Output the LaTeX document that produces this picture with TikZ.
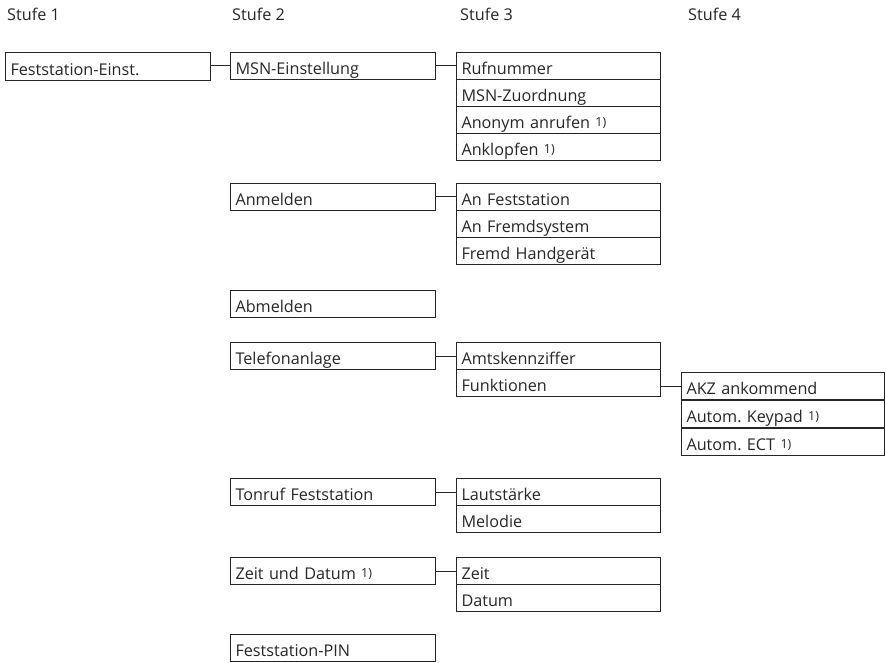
\documentclass[tikz,border=0pt]{standalone}
\usepackage{fontspec}
\setmainfont{Open Sans}
\frenchspacing
\newcommand{\fnote}{ \raisebox{2pt}{\fontsize{12.5}{14}\selectfont 1)}}
\begin{document}
\begin{tikzpicture}[x=1pt,y=-1pt,
  every node/.style={font=\fontsize{16.2}{19}\selectfont, text=black!85},
  cell/.style={draw=black!85, line width=1pt, anchor=north west, inner xsep=5pt, inner ysep=0pt,
     text width=#1, align=left, minimum height=27pt, text height=22.3pt, text depth=4.7pt},
  cell/.default=195pt,
  head/.style={anchor=base west, inner sep=0pt},
  link/.style={draw=black!85, line width=1pt}]
\useasboundingbox (0,0) rectangle (886,663);
% headers
\node[head] (h1) at (7,21) {Stufe 1};
\node[head] (h2) at (232,21) {Stufe 2};
\node[head] (h3) at (460,21) {Stufe 3};
\node[head] (h4) at (688,21) {Stufe 4};
% level 1
\node[cell, text height=23.3pt, text depth=5pt] (l1) at (5,52) {Feststation-Einst.};
% level 2
\node[cell] (msn) at (230,52) {MSN-Einstellung};
\node[cell] (anm) at (230,183) {Anmelden};
\node[cell] (abm) at (230,290) {Abmelden};
\node[cell] (tel) at (230,342) {Telefonanlage};
\node[cell] (ton) at (230,478) {Tonruf Feststation};
\node[cell] (zeit) at (230,557) {Zeit und Datum\fnote};
\node[cell] (pin) at (230,634) {Feststation-PIN};
% level 3
\node[cell=194pt] (ruf) at (456,52) {Rufnummer};
\node[cell=194pt] (zuo) at (456,79) {MSN-Zuordnung};
\node[cell=194pt] (ano) at (456,106) {Anonym anrufen\fnote};
\node[cell=194pt] (ank) at (456,133) {Anklopfen\fnote};
\node[cell=194pt] (anf) at (456,183) {An Feststation};
\node[cell=194pt] (fre) at (456,210) {An Fremdsystem};
\node[cell=194pt] (hand) at (456,237) {Fremd Handgerät};
\node[cell=194pt] (amt) at (456,342) {Amtskennziffer};
\node[cell=194pt] (fun) at (456,369) {Funktionen};
\node[cell=194pt] (laut) at (456,478) {Lautstärke};
\node[cell=194pt] (mel) at (456,505) {Melodie};
\node[cell=194pt] (zt) at (456,557) {Zeit};
\node[cell=194pt] (dat) at (456,584) {Datum};
% level 4
\node[cell=193pt] (akz) at (681,372) {AKZ ankommend};
\node[cell=193pt] (key) at (681,400) {Autom. Keypad\fnote};
\node[cell=193pt] (ect) at (681,428) {Autom. ECT\fnote};
% connectors
\draw[link] (msn.west -| l1.east) -- (msn.west);
\draw[link] (ruf.west -| msn.east) -- (ruf.west);
\draw[link] (anf.west -| anm.east) -- (anf.west);
\draw[link] (amt.west -| tel.east) -- (amt.west);
\draw[link] (akz.west -| fun.east) -- (akz.west);
\draw[link] (laut.west -| ton.east) -- (laut.west);
\draw[link] (zt.west -| zeit.east) -- (zt.west);
\end{tikzpicture}
\end{document}
